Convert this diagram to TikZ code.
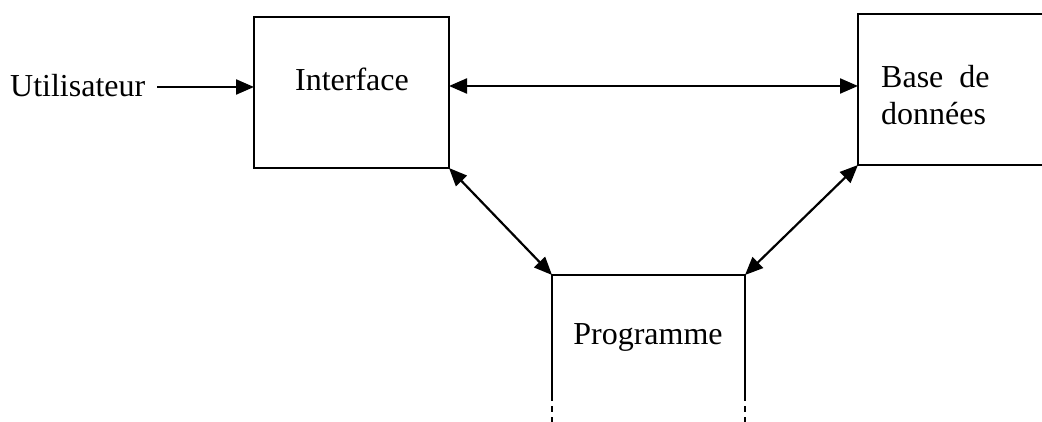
\documentclass[tikz,border=0pt]{standalone}
\usepackage{fontspec}
\setmainfont{Liberation Serif}
\usetikzlibrary{arrows.meta}
\begin{document}
\begin{tikzpicture}[x=1pt,y=-1pt,
  boxline/.style={line width=1.8pt},
  tip/.tip={Triangle[length=18pt,width=15pt]},
  link/.style={line width=2.2pt,-tip},
  dlink/.style={line width=2.2pt,tip-tip},
  lbl/.style={inner sep=0pt,font=\fontsize{32}{37}\selectfont}]
\useasboundingbox (0,0) rectangle (1042,422);
% corners of the three boxes
\coordinate (iTL) at (254,17);  \coordinate (iTR) at (449,17);
\coordinate (iBL) at (254,168); \coordinate (iBR) at (449,168);
\coordinate (bTL) at (858,14);  \coordinate (bTR) at (1042,14);
\coordinate (bBL) at (858,165); \coordinate (bBR) at (1042,165);
\coordinate (pTL) at (552,275); \coordinate (pTR) at (745,275);
\coordinate (pL1) at (552,395); \coordinate (pR1) at (745,395);
\coordinate (pL2) at (552,422); \coordinate (pR2) at (745,422);
% Interface box
\draw[boxline] (iTL) rectangle (iBR);
% database box, open on the right
\draw[boxline] (bTR) -- (bTL) -- (bBL) -- (bBR);
% program box, open at the bottom
\draw[boxline] (pL1) -- (pTL) -- (pTR) -- (pR1);
\draw[boxline,dash pattern=on 6pt off 5pt] (pL1) -- (pL2);
\draw[boxline,dash pattern=on 6pt off 5pt] (pR1) -- (pR2);
% labels
\node[lbl,anchor=west] (user) at (10,86) {Utilisateur};
\node[lbl] (iface) at (352,79) {Interface};
\node[lbl,anchor=west,align=left] (db) at (881,95) {Base\enspace de\\données};
\node[lbl] (prog) at (648,337) {Programme};
% connectors
\coordinate (uStart) at (157,87);
\coordinate (uEnd) at (254,87);
\coordinate (iMid) at (449,86);
\coordinate (bMid) at (858,86);
\draw[link] (uStart) -- (uEnd);
\draw[dlink] (iMid) -- (bMid);
\draw[dlink] (iBR) -- (pTL);
\draw[dlink] (pTR) -- (bBL);
\end{tikzpicture}
\end{document}
